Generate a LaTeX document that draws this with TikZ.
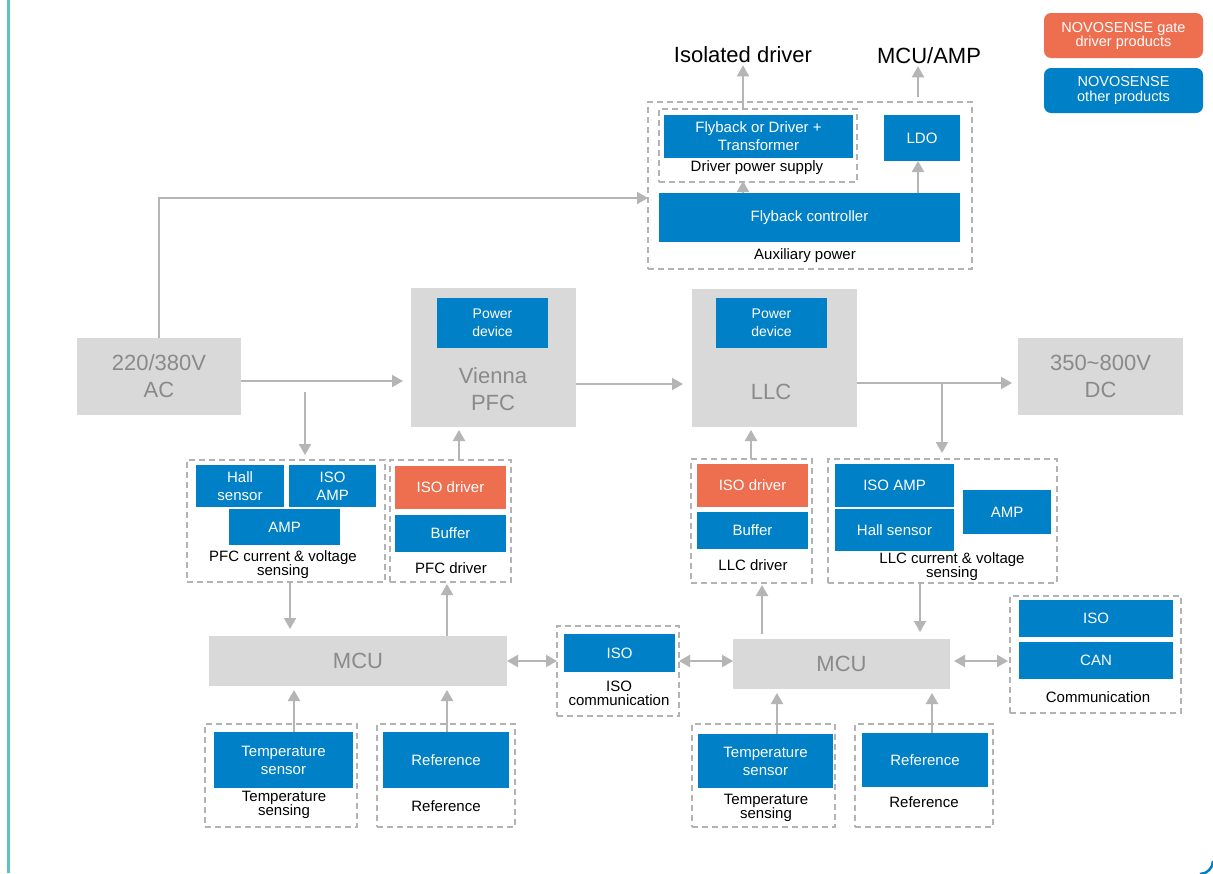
\documentclass[tikz,border=0pt]{standalone}
\usepackage{fontspec}
\setmainfont{Liberation Sans}
\usetikzlibrary{arrows.meta}
\definecolor{nblue}{HTML}{0080C6}
\definecolor{norange}{HTML}{EE6E50}
\definecolor{boxgrey}{HTML}{D9D9D9}
\definecolor{greytext}{HTML}{8A8A8A}
\definecolor{dashgrey}{HTML}{B3B3B3}
\definecolor{arrgrey}{HTML}{B5B5B5}
\definecolor{tealline}{HTML}{5CC3C3}
\begin{document}
\begin{tikzpicture}[x=1pt,y=-1pt,
  bb/.style={fill=nblue,text=white,inner sep=0pt,outer sep=0pt,anchor=north west,align=center,font=\fontsize{15}{18}\selectfont},
  ob/.style={bb,fill=norange},
  gb/.style={fill=boxgrey,text=greytext,inner sep=0pt,outer sep=0pt,anchor=north west,align=center,font=\fontsize{22}{27}\selectfont},
  gt/.style={text=greytext,align=center,font=\fontsize{22}{27}\selectfont},
  db/.style={draw=dashgrey,line width=1.5pt,dash pattern=on 6pt off 4pt,inner sep=0pt,outer sep=0pt,anchor=north west},
  lbl/.style={text=black,align=center,font=\fontsize{15}{14}\selectfont,inner sep=0pt},
  toplbl/.style={text=black,font=\fontsize{22}{26}\selectfont,inner sep=0pt},
  arr/.style={draw=arrgrey,line width=2pt,-{Triangle[width=12pt,length=11pt]}},
  darr/.style={draw=arrgrey,line width=2pt,{Triangle[width=12pt,length=11pt]}-{Triangle[width=12pt,length=11pt]}}
]
\useasboundingbox (0,0) rectangle (1213,873);
\fill[white] (0,0) rectangle (1213,873);

% frame decorations
\draw[tealline,line width=3pt] (8.5,0) -- (8.5,873);
\draw[nblue,line width=2.5pt] (1200,874) .. controls (1207,874) and (1213,868) .. (1213,861);

% helper x / y coordinates
\coordinate (k743) at (743,0);
\coordinate (k918) at (918,0);
\coordinate (k198) at (0,198);
\coordinate (k381) at (0,381);
\coordinate (k384) at (0,384);
\coordinate (k383) at (0,383);
\coordinate (k459) at (459,0);
\coordinate (k751) at (751,0);
\coordinate (k290) at (290,0);
\coordinate (k447) at (447,0);
\coordinate (k762) at (762,0);
\coordinate (k920) at (920,0);
\coordinate (k661) at (0,661);
\coordinate (k294) at (294,0);
\coordinate (k777) at (777,0);
\coordinate (k932) at (932,0);
\coordinate (b1) at (305,392);
\coordinate (b2) at (942,383);

% legend
\node[ob,minimum width=159pt,minimum height=45pt,rounded corners=7pt,font=\fontsize{14.5}{14}\selectfont] (lg1) at (1044,13) {NOVOSENSE gate\\driver products};
\node[bb,minimum width=159pt,minimum height=45pt,rounded corners=7pt,font=\fontsize{14.5}{15}\selectfont] (lg2) at (1044,68) {NOVOSENSE\\other products};

% top labels
\node[toplbl] (isod) at (743,55) {Isolated driver};
\node[toplbl] (mcuamp) at (929,56) {MCU/AMP};

% auxiliary power
\node[db,minimum width=324pt,minimum height=167pt] (aux) at (648,102) {};
\node[db,minimum width=198pt,minimum height=73pt] (dps) at (659,109) {};
\node[bb,minimum width=189pt,minimum height=43pt] (fly) at (664,115) {Flyback or Driver +\\Transformer};
\node[lbl] (dpsl) at (757,168) {Driver power supply};
\node[bb,minimum width=76pt,minimum height=46pt] (ldo) at (884,115) {LDO};
\node[bb,minimum width=301pt,minimum height=49pt] (fc) at (659,193) {Flyback controller};
\node[lbl] (auxl) at (805,256) {Auxiliary power};

\draw[arr,shorten >=2pt] (dps.north -| k743) -- (isod.south -| k743);
\draw[arr,shorten <=5pt,shorten >=2pt] (aux.north -| k918) -- (mcuamp.south -| k918);
\draw[arr,shorten >=-1pt] (fc.north -| k743) -- (dps.south -| k743);
\draw[arr] (fc.north -| k918) -- (ldo.south -| k918);

% power path
\node[gb,minimum width=164pt,minimum height=77pt] (ac) at (77,338) {220/380V\\AC};
\node[gb,minimum width=165pt,minimum height=139pt] (vie) at (411,288) {};
\node[bb,minimum width=111pt,minimum height=50pt,font=\fontsize{14}{18}\selectfont] (pd1) at (437,298) {Power\\device};
\node[gt] (viet) at (493,389) {Vienna\\PFC};
\node[gb,minimum width=165pt,minimum height=138pt] (llc) at (692,289) {};
\node[bb,minimum width=111pt,minimum height=50pt,font=\fontsize{14}{18}\selectfont] (pd2) at (716,298) {Power\\device};
\node[gt] (llct) at (771,392) {LLC};
\node[gb,minimum width=165pt,minimum height=77pt] (dc) at (1018,338) {350\textasciitilde800V\\DC};

\draw[arr] (ac.north) |- (aux.west |- k198);
\draw[arr,shorten >=8pt] (ac.east |- k381) -- (vie.west |- k381);
\draw[arr,shorten >=9pt] (vie.east |- k384) -- (llc.west |- k384);
\draw[arr,shorten >=6pt] (llc.east |- k383) -- (dc.west |- k383);

% PFC sensing
\node[db,minimum width=198pt,minimum height=122pt] (pfcs) at (187,460) {};
\node[bb,minimum width=88pt,minimum height=42pt] (hall1) at (196,465) {Hall\\sensor};
\node[bb,minimum width=87pt,minimum height=42pt] (isoamp1) at (289,465) {ISO\\AMP};
\node[bb,minimum width=111pt,minimum height=36pt] (amp1) at (229,509) {AMP};
\node[lbl] (pfcsl) at (283,565) {PFC current \& voltage\\sensing};
\draw[arr,shorten >=5pt] (b1) -- (pfcs.north -| b1);

% PFC driver
\node[db,minimum width=121pt,minimum height=122pt] (pfcd) at (390,460) {};
\node[ob,minimum width=111pt,minimum height=43pt] (isod1) at (395,466) {ISO driver};
\node[bb,minimum width=111pt,minimum height=37pt] (buf1) at (395,515) {Buffer};
\node[lbl] (pfcdl) at (451,568) {PFC driver};
\draw[arr,shorten >=3pt] (pfcd.north -| k459) -- (vie.south -| k459);

% LLC driver
\node[db,minimum width=121pt,minimum height=124pt] (llcd) at (691,459) {};
\node[ob,minimum width=111pt,minimum height=43pt] (isod2) at (697,464) {ISO driver};
\node[bb,minimum width=111pt,minimum height=37pt] (buf2) at (697,512) {Buffer};
\node[lbl] (llcdl) at (753,565) {LLC driver};
\draw[arr,shorten >=3pt] (llcd.north -| k751) -- (llc.south -| k751);

% LLC sensing
\node[db,minimum width=229pt,minimum height=124pt] (llcs) at (828,459) {};
\node[bb,minimum width=119pt,minimum height=43pt] (isoamp2) at (835,464) {ISO AMP};
\node[bb,minimum width=119pt,minimum height=42pt] (hall2) at (835,509) {Hall sensor};
\node[bb,minimum width=88pt,minimum height=44pt] (amp2) at (963,490) {AMP};
\node[lbl] (llcsl) at (952,567) {LLC current \& voltage\\sensing};
\draw[arr,shorten >=6pt] (b2) -- (llcs.north -| b2);

% MCUs
\node[gb,minimum width=298pt,minimum height=50pt] (mcu1) at (209,636) {MCU};
\node[gb,minimum width=217pt,minimum height=50pt] (mcu2) at (733,639) {MCU};

\draw[arr,shorten >=7pt] (pfcs.south -| k290) -- (mcu1.north -| k290);
\draw[arr,shorten >=2pt] (mcu1.north -| k447) -- (pfcd.south -| k447);
\draw[arr,shorten <=5pt,shorten >=2pt] (mcu2.north -| k762) -- (llcd.south -| k762);
\draw[arr,shorten >=7pt] (llcs.south -| k920) -- (mcu2.north -| k920);

% ISO communication
\node[db,minimum width=122pt,minimum height=90pt] (isoc) at (557,626) {};
\node[bb,minimum width=111pt,minimum height=38pt] (iso1) at (564,634) {ISO};
\node[lbl] (isocl) at (619,693) {ISO\\communication};

% Communication
\node[db,minimum width=171pt,minimum height=117pt] (comm) at (1010,596) {};
\node[bb,minimum width=154pt,minimum height=37pt] (iso2) at (1019,600) {ISO};
\node[bb,minimum width=154pt,minimum height=37pt] (can) at (1019,642) {CAN};
\node[lbl] (comml) at (1098,697) {Communication};

\draw[darr] (mcu1.east |- k661) -- (isoc.west |- k661);
\draw[darr] (isoc.east |- k661) -- (mcu2.west |- k661);
\draw[darr,shorten <=4pt,shorten >=2pt] (mcu2.east |- k661) -- (comm.west |- k661);

% bottom blocks
\node[db,minimum width=152pt,minimum height=103pt] (ts1) at (205,724) {};
\node[bb,minimum width=139pt,minimum height=56pt] (tsb1) at (214,732) {Temperature\\sensor};
\node[lbl] (ts1l) at (284,805) {Temperature\\sensing};
\draw[arr,shorten >=4pt] (tsb1.north -| k294) -- (mcu1.south -| k294);

\node[db,minimum width=138pt,minimum height=103pt] (rf1) at (377,724) {};
\node[bb,minimum width=126pt,minimum height=56pt] (rfb1) at (383,732) {Reference};
\node[lbl] (rf1l) at (446,806) {Reference};
\draw[arr,shorten >=4pt] (rfb1.north -| k447) -- (mcu1.south -| k447);

\node[db,minimum width=143pt,minimum height=103pt] (ts2) at (692,724) {};
\node[bb,minimum width=135pt,minimum height=54pt] (tsb2) at (698,734) {Temperature\\sensor};
\node[lbl] (ts2l) at (766,808) {Temperature\\sensing};
\draw[arr,shorten >=4pt] (tsb2.north -| k777) -- (mcu2.south -| k777);

\node[db,minimum width=138pt,minimum height=103pt] (rf2) at (855,724) {};
\node[bb,minimum width=126pt,minimum height=54pt] (rfb2) at (862,733) {Reference};
\node[lbl] (rf2l) at (924,802) {Reference};
\draw[arr,shorten >=4pt] (rfb2.north -| k932) -- (mcu2.south -| k932);
\end{tikzpicture}
\end{document}
